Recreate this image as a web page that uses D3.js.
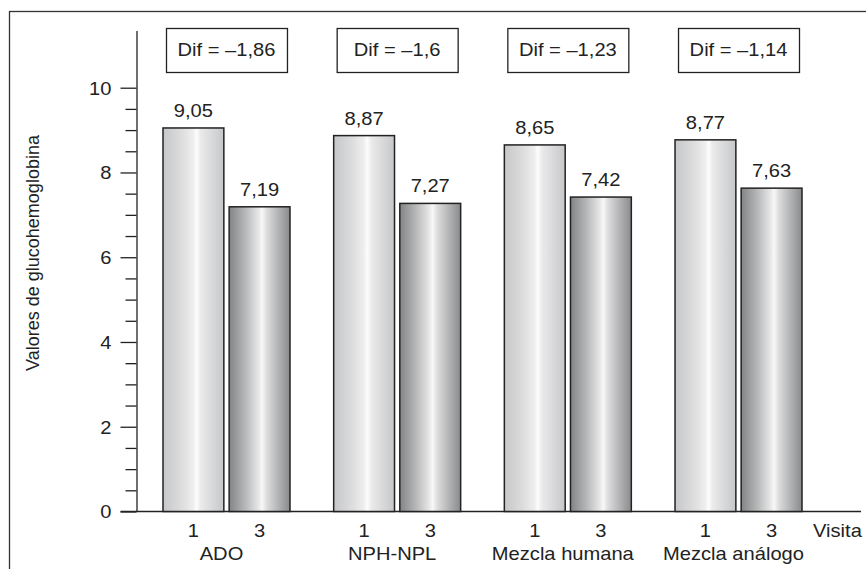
<!DOCTYPE html>
<html>
<head>
<meta charset="utf-8">
<script src="https://cdn.jsdelivr.net/npm/d3@7"></script>
<style>
    body { margin: 0; background: #fff; }
    svg { display: block; }
    text { font-family: "Liberation Sans", Arial, sans-serif; fill: #222; }
</style>
</head>
<body>
<div id="chart"></div>
<script>
var categories = ["ADO", "NPH-NPL", "Mezcla humana", "Mezcla análogo"];
var visits = ["1", "3"];
var visita1 = [9.05, 8.87, 8.65, 8.77];
var visita3 = [7.19, 7.27, 7.42, 7.63];
var difs = [-1.86, -1.6, -1.23, -1.14];
var yTicks = [0, 2, 4, 6, 8, 10];
var yLabel = "Valores de glucohemoglobina";
var xLabel = "Visita";

var width = 866, height = 569;
var sx = 1.15;   // the original lettering is a bit wider than Arial

var svg = d3.select("#chart").append("svg")
    .attr("width", width).attr("height", height);

// gradients for the two kinds of bars
var defs = svg.append("defs");
function gradient(id, stops){
    var g = defs.append("linearGradient").attr("id", id)
        .attr("x1", "0%").attr("x2", "100%").attr("y1", "0%").attr("y2", "0%");
    stops.forEach(function(s){
        g.append("stop").attr("offset", s[0]).attr("stop-color", s[1]);
    });
}
gradient("g1", [["0%", "#c6c7c9"], ["30%", "#dcdcdd"], ["50%", "#efefef"], ["55%", "#fdfdfd"], ["62%", "#eaeaeb"], ["100%", "#c6c7c9"]]);
gradient("g3", [["0%", "#838485"], ["25%", "#b3b4b5"], ["48%", "#e6e6e6"], ["54%", "#f8f8f8"], ["62%", "#dcdcdd"], ["100%", "#898a8c"]]);

// outer frame
svg.append("rect")
    .attr("x", 9.5).attr("y", 11.5)
    .attr("width", width + 20).attr("height", height + 20)
    .attr("fill", "none").attr("stroke", "#333").attr("stroke-width", 1.3);

var y = d3.scaleLinear().domain([0, 11.35]).range([511.5, 30.5]);
var x0 = d3.scaleBand().domain(categories).range([163, 802]).paddingInner(0.256).paddingOuter(0);
var x1 = d3.scaleBand().domain(visits).range([0, x0.bandwidth()]).paddingInner(0.08);

function stretch(sel){
    sel.each(function(){
        var t = d3.select(this);
        var tx = +t.attr("x") || 0, ty = +t.attr("y") || 0;
        t.attr("transform", "translate(" + tx + "," + ty + ") scale(" + sx + ",1)")
            .attr("x", 0).attr("y", 0);
    });
}

// y axis: major + minor ticks
var axisX = 136.5;
var minor = d3.range(0.5, 10, 0.5).filter(function(v){ return v % 2 !== 0; });
svg.append("g").attr("transform", "translate(" + axisX + ",0)")
    .call(d3.axisLeft(y).tickValues(minor).tickSize(11).tickSizeOuter(0).tickFormat(""))
    .call(function(g){ g.select(".domain").remove(); })
    .selectAll("line").attr("stroke", "#222").attr("stroke-width", 1.3);

var gy = svg.append("g").attr("transform", "translate(" + axisX + ",0)")
    .call(d3.axisLeft(y).tickValues(yTicks).tickSize(16).tickSizeOuter(0).tickPadding(25).tickFormat(d3.format("d")));
gy.select(".domain").attr("stroke", "#222").attr("stroke-width", 1.3);
gy.selectAll("line").attr("stroke", "#222").attr("stroke-width", 1.3);
gy.selectAll("text").attr("font-size", 17.5).attr("fill", "#222").attr("dy", "0.36em")
    .attr("font-family", "Liberation Sans, Arial, sans-serif")
    .call(function(s){
        s.each(function(){
            var t = d3.select(this);
            t.attr("transform", "translate(" + (-25) + ",0) scale(" + sx + ",1)").attr("x", 0);
        });
    });

// baseline
svg.append("line")
    .attr("x1", 120.5).attr("x2", 861).attr("y1", y(0)).attr("y2", y(0))
    .attr("stroke", "#222").attr("stroke-width", 1.4);

// y label
svg.append("text")
    .attr("transform", "translate(39," + 253 + ") rotate(-90)")
    .attr("text-anchor", "middle").attr("font-size", 18)
    .text(yLabel);

// groups
var groups = svg.selectAll("g.cat").data(categories).enter().append("g")
    .attr("class", "cat")
    .attr("transform", function(d){ return "translate(" + x0(d) + ",0)"; });

groups.each(function(c, i){
    var g = d3.select(this);
    var vals = [visita1[i], visita3[i]];
    visits.forEach(function(v, j){
        g.append("rect")
            .attr("x", x1(v)).attr("y", y(vals[j]))
            .attr("width", x1.bandwidth()).attr("height", y(0) - y(vals[j]))
            .attr("fill", j === 0 ? "url(#g1)" : "url(#g3)")
            .attr("stroke", "#222").attr("stroke-width", 1.5);

        g.append("text")
            .attr("x", x1(v) + x1.bandwidth() / 2).attr("y", y(vals[j]) - 11)
            .attr("text-anchor", "middle").attr("font-size", 17.5)
            .text(d3.format(".2f")(vals[j]).replace(".", ","))
            .call(stretch);

        g.append("text")
            .attr("x", x1(v) + x1.bandwidth() / 2).attr("y", 537)
            .attr("text-anchor", "middle").attr("font-size", 17.5)
            .text(v)
            .call(stretch);
    });

    // category name
    g.append("text")
        .attr("x", x0.bandwidth() / 2 - 5).attr("y", 560)
        .attr("text-anchor", "middle").attr("font-size", 17.5)
        .text(c)
        .call(stretch);

    // difference box
    g.append("rect")
        .attr("x", 3.5).attr("y", 28.5)
        .attr("width", x0.bandwidth() - 6).attr("height", 44)
        .attr("fill", "#fff").attr("stroke", "#222").attr("stroke-width", 1.3);
    g.append("text")
        .attr("x", x0.bandwidth() / 2).attr("y", 55.5)
        .attr("text-anchor", "middle").attr("font-size", 17.5)
        .text("Dif = \u2013" + String(Math.abs(difs[i])).replace(".", ","))
        .call(stretch);
});

svg.append("text")
    .attr("x", 813).attr("y", 537).attr("font-size", 17.5)
    .text(xLabel)
    .call(stretch);
</script>
</body>
</html>
